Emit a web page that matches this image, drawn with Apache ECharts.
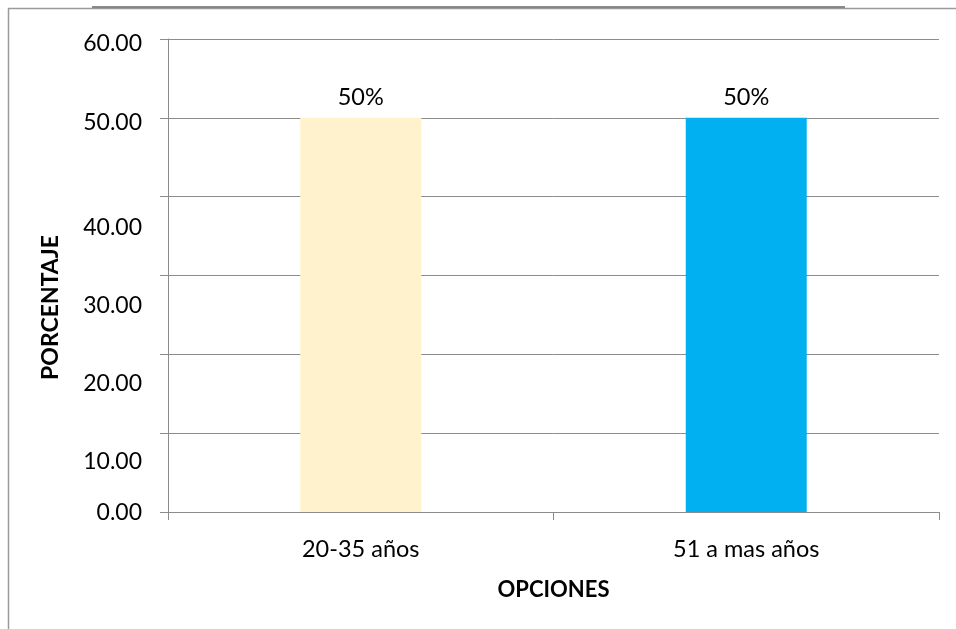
<!DOCTYPE html>
<html>
<head>
<meta charset="utf-8">
<script src="https://cdn.jsdelivr.net/npm/echarts@6/dist/echarts.min.js"></script>
<style>
  html, body { margin: 0; padding: 0; background: #ffffff; }
  #chart { width: 956px; height: 629px; }
</style>
</head>
<body>
<div id="chart"></div>
<script>
// Age groups and their share of respondents (%)
const categories = ['20-35 años', '51 a mas años'];
const percentages = [50, 50];
const barColors = ['#FFF2CC', '#00B0F0'];
const yTicks = [0, 10, 20, 30, 40, 50, 60];

const FONT = 'Lato';
const TEXT_SIZE = 23.5;

// Per-tick vertical nudge of the value labels (px, downward)
const labelShift = { 0: 1, 10: 28, 20: 29, 30: 30, 40: 31, 50: 5, 60: 5 };
const rich = {};
Object.keys(labelShift).forEach(function (k) {
  rich['t' + k] = {
    fontFamily: FONT, fontSize: 23, color: '#000000',
    padding: [labelShift[k] * 2, 0, 0, 0]
  };
});

const chart = echarts.init(document.getElementById('chart'), null, { renderer: 'canvas' });

chart.setOption({
  animation: false,
  backgroundColor: '#ffffff',
  grid: { left: 168, right: 17, top: 39, bottom: 117, containLabel: false },
  xAxis: {
    type: 'category',
    data: categories,
    name: 'OPCIONES',
    nameLocation: 'middle',
    nameGap: 67,
    nameTextStyle: { fontFamily: FONT, fontSize: 22, fontWeight: 'bold', color: '#000000' },
    axisLine: { show: true, lineStyle: { color: '#8c8c8c', width: 1 } },
    axisTick: { show: true, length: 8, alignWithLabel: false, lineStyle: { color: '#8c8c8c' } },
    axisLabel: { margin: 25, fontFamily: FONT, fontSize: TEXT_SIZE, color: '#000000' },
    splitLine: { show: false }
  },
  yAxis: {
    type: 'value',
    min: yTicks[0],
    max: yTicks[yTicks.length - 1],
    interval: 10,
    name: 'PORCENTAJE',
    nameLocation: 'middle',
    nameGap: 106,
    nameRotate: 90,
    nameTextStyle: {
      fontFamily: FONT, fontSize: 23, fontWeight: 'bold', color: '#000000',
      padding: [0, 64, 0, 0]
    },
    axisLine: { show: true, lineStyle: { color: '#8c8c8c', width: 1 } },
    axisTick: { show: true, length: 8, lineStyle: { color: '#8c8c8c' } },
    axisLabel: {
      margin: 26,
      fontFamily: FONT, fontSize: 23, color: '#000000',
      formatter: function (v) { return '{t' + v + '|' + v.toFixed(2) + '}'; },
      rich: rich
    },
    splitLine: { show: true, lineStyle: { color: '#8c8c8c', width: 1 } }
  },
  series: [{
    type: 'bar',
    barWidth: 121,
    data: percentages.map(function (v, i) {
      return { value: v, itemStyle: { color: barColors[i] } };
    }),
    label: {
      show: true,
      position: 'top',
      distance: 8,
      fontFamily: FONT, fontSize: TEXT_SIZE, color: '#000000',
      formatter: function (p) { return p.value + '%'; }
    }
  }],
  graphic: [
    // outer frame edges
    { type: 'line', silent: true, shape: { x1: 8.5, y1: 8.5, x2: 8.5, y2: 629 }, style: { stroke: '#9a9a9a', lineWidth: 1.5 } },
    { type: 'line', silent: true, shape: { x1: 8, y1: 8.5, x2: 956, y2: 8.5 }, style: { stroke: '#9a9a9a', lineWidth: 1.5 } },
    { type: 'line', silent: true, shape: { x1: 92, y1: 7, x2: 845, y2: 7 }, style: { stroke: '#666666', lineWidth: 1.5 } }
  ]
});
</script>
</body>
</html>
